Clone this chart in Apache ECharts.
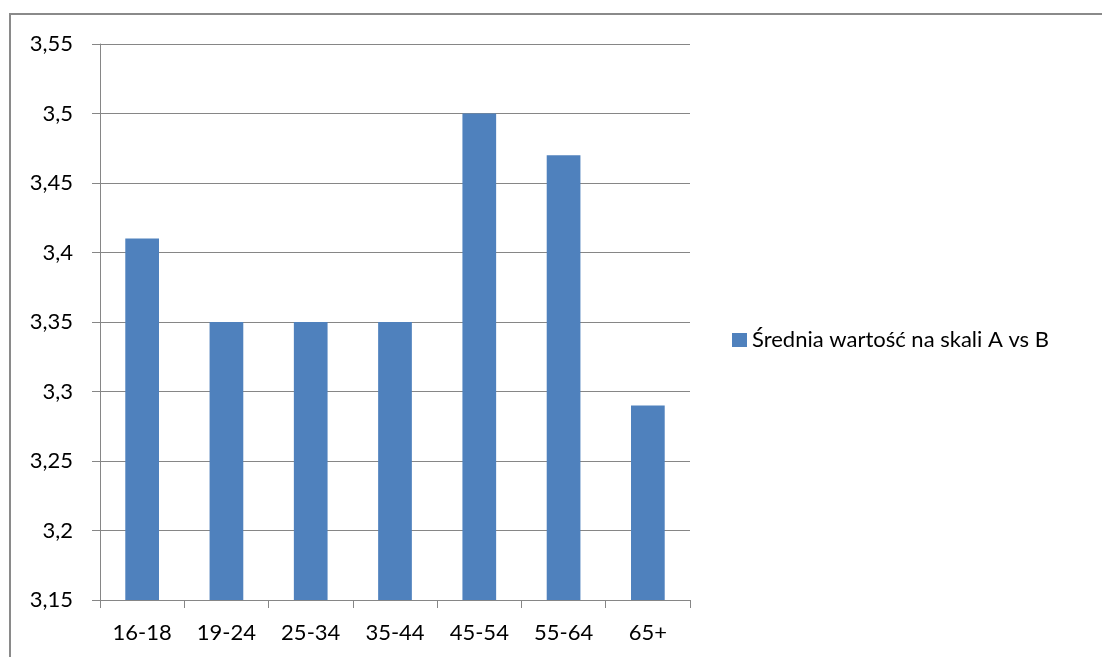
<!DOCTYPE html>
<html>
<head>
<meta charset="utf-8">
<title>Średnia wartość na skali A vs B</title>
<script src="https://cdn.jsdelivr.net/npm/echarts@6/dist/echarts.min.js"></script>
</head>
<body style="margin:0;background:#fff;">
<div id="main" style="width:1102px;height:657px;"></div>
<script type="text/javascript">
// dane
var categories = ['16-18', '19-24', '25-34', '35-44', '45-54', '55-64', '65+'];
var values = [3.41, 3.35, 3.35, 3.35, 3.5, 3.47, 3.29];
var seriesName = 'Średnia wartość na skali A vs B';

var myChart = echarts.init(document.getElementById('main'));
var font = 'Lato, "Open Sans", sans-serif';

myChart.setOption({
    backgroundColor: '#ffffff',
    animation: false,
    textStyle: { fontFamily: font },
    graphic: [{
        type: 'rect',
        shape: { x: 10, y: 14, width: 1200, height: 800 },
        style: { fill: 'none', stroke: '#8a8a8a', lineWidth: 2 }
    }],
    grid: { left: 100, right: 412, top: 44, bottom: 57 },
    legend: {
        left: 732, top: 329,
        padding: 0,
        icon: 'rect',
        itemWidth: 15, itemHeight: 14,
        textStyle: { fontSize: 22, color: '#000', fontFamily: font },
        data: [seriesName]
    },
    xAxis: {
        type: 'category',
        data: categories,
        axisLine: { lineStyle: { color: '#868686', width: 1 } },
        axisTick: { show: true, length: 8, lineStyle: { color: '#868686' } },
        axisLabel: { color: '#000', fontSize: 22, margin: 22, fontFamily: font }
    },
    yAxis: {
        type: 'value',
        min: 3.15, max: 3.55, interval: 0.05,
        axisLine: { show: true, lineStyle: { color: '#868686', width: 1 } },
        axisTick: { show: true, length: 8, lineStyle: { color: '#868686' } },
        splitLine: { lineStyle: { color: '#868686', width: 1 } },
        axisLabel: {
            color: '#000', fontSize: 22, margin: 27, fontFamily: font,
            formatter: function (v) {
                return String(Math.round(v * 100) / 100).replace('.', ',');
            }
        }
    },
    series: [{
        name: seriesName,
        type: 'bar',
        data: values,
        barCategoryGap: '60%',
        itemStyle: { color: '#4f81bd' }
    }]
});
</script>
</body>
</html>
